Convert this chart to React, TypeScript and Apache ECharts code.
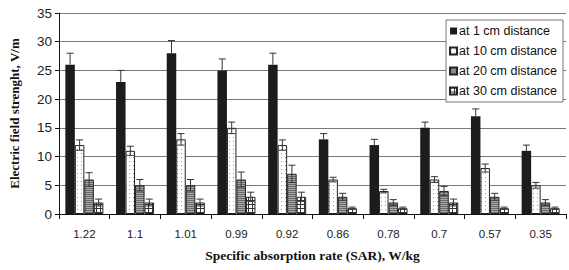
import React, { useEffect, useRef } from "react";
import * as echarts from "echarts";

const categories = ["1.22", "1.1", "1.01", "0.99", "0.92", "0.86", "0.78", "0.7", "0.57", "0.35"];
const seriesNames = ["at 1 cm distance", "at 10 cm distance", "at 20 cm distance", "at 30 cm distance"];
const values1cm = [26, 23, 28, 25, 26, 13, 12, 15, 17, 11];
const values10cm = [12, 11, 13, 15, 12, 6, 4, 6, 8, 5];
const values20cm = [6, 5, 5, 6, 7, 3, 2, 4, 3, 2];
const values30cm = [2, 2, 2, 3, 3, 1, 1, 2, 1, 1];
const err1cm = [2, 2, 2.2, 2, 2, 1, 1, 1, 1.3, 1];
const err10cm = [0.9, 0.8, 1, 1, 0.9, 0.4, 0.3, 0.5, 0.7, 0.5];
const err20cm = [1.2, 1, 1, 1.3, 1.5, 0.6, 0.5, 0.8, 0.6, 0.5];
const err30cm = [0.6, 0.6, 0.6, 0.8, 0.8, 0.2, 0.2, 0.6, 0.2, 0.2];

function makePattern(kind: string): HTMLCanvasElement {
  const c = document.createElement("canvas");
  const s = 4;
  c.width = s;
  c.height = s;
  const ctx = c.getContext("2d")!;
  if (kind === "dots") {
    ctx.fillStyle = "#ffffff";
    ctx.fillRect(0, 0, s, s);
    ctx.fillStyle = "#9a9a9a";
    ctx.fillRect(1, 1, 1, 1);
  } else if (kind === "hlines") {
    ctx.fillStyle = "#a8a8a8";
    ctx.fillRect(0, 0, s, s);
    ctx.fillStyle = "#6a6a6a";
    ctx.fillRect(0, 0, s, 1);
    ctx.fillRect(0, 2, s, 1);
  } else {
    ctx.fillStyle = "#ffffff";
    ctx.fillRect(0, 0, s, s);
    ctx.fillStyle = "#333333";
    ctx.fillRect(0, 0, s, 1);
    ctx.fillRect(0, 0, 1, s);
  }
  return c;
}

export default function App() {
  const ref = useRef<HTMLDivElement>(null);
  useEffect(() => {
    if (!ref.current) return;
    document.body.style.margin = "0";
    const chart = echarts.init(ref.current, undefined, { renderer: "svg" });
    const allValues = [values1cm, values10cm, values20cm, values30cm];
    const allErr = [err1cm, err10cm, err20cm, err30cm];
    const fills: any[] = [
      "#1c1c1c",
      { image: makePattern("dots"), repeat: "repeat" },
      { image: makePattern("hlines"), repeat: "repeat" },
      { image: makePattern("grid"), repeat: "repeat" },
    ];
    const errData: any[] = [];
    allValues.forEach((vals, si) => {
      vals.forEach((v, ci) => errData.push([ci, v, allErr[si][ci], si]));
    });
    const font = "Liberation Sans";
    const option: any = {
      animation: false,
      backgroundColor: "#ffffff",
      grid: { left: 57, right: 3, top: 13, bottom: 56 },
      legend: {
        right: 6,
        top: 20,
        orient: "vertical",
        backgroundColor: "#ffffff",
        borderColor: "#777",
        borderWidth: 1,
        padding: [4, 6, 4, 3],
        itemGap: 6,
        itemWidth: 7,
        itemHeight: 7,
        icon: "rect",
        textStyle: { fontFamily: font, fontSize: 12.5, color: "#111", padding: [0, 0, 0, -3], lineHeight: 14 },
        data: seriesNames,
      },
      xAxis: {
        type: "category",
        data: categories,
        name: "Specific absorption rate (SAR), W/kg",
        nameLocation: "middle",
        nameGap: 34,
        nameTextStyle: { fontFamily: "Liberation Serif", fontWeight: "bold", fontSize: 13.5, color: "#111" },
        axisLine: { lineStyle: { color: "#111", width: 1 } },
        axisTick: { show: true, length: 5, lineStyle: { color: "#111" } },
        axisLabel: { fontFamily: font, fontSize: 11.5, color: "#222", margin: 14 },
      },
      yAxis: {
        type: "value",
        min: 0,
        max: 35,
        interval: 5,
        name: "Electric field strenght, V/m",
        nameLocation: "middle",
        nameGap: 38,
        nameTextStyle: { fontFamily: "Liberation Serif", fontWeight: "bold", fontSize: 13, color: "#111" },
        axisLine: { show: true, lineStyle: { color: "#111", width: 1 } },
        axisTick: { show: true, length: 4, lineStyle: { color: "#111" } },
        axisLabel: { fontFamily: font, fontSize: 13.5, color: "#222", margin: 7 },
        splitLine: { lineStyle: { color: "#7a7a7a", width: 1 } },
      },
      series: [
        ...allValues.map((vals, si) => ({
          name: seriesNames[si],
          type: "bar",
          data: vals,
          barGap: "0%",
          barCategoryGap: "25%",
          itemStyle: { color: fills[si], borderColor: "#222", borderWidth: si === 0 ? 0 : 1 },
        })),
        {
          type: "custom",
          z: 10,
          encode: { x: 0, y: 1 },
          data: errData,
          renderItem: (params: any, api: any) => {
            const ci = api.value(0);
            const v = api.value(1);
            const e = api.value(2);
            const si = api.value(3);
            const catW = api.size([1, 0])[0];
            const bw = (catW * 0.75) / 4;
            const center = api.coord([ci, v]);
            const x = center[0] + (si - 1.5) * bw;
            const yTop = api.coord([ci, v + e])[1];
            const yBot = si === 0 ? center[1] : api.coord([ci, v - e])[1];
            const cap = 3.5;
            const style = { stroke: "#333", lineWidth: 1 };
            const children: any[] = [
              { type: "line", shape: { x1: x, y1: yTop, x2: x, y2: yBot }, style },
              { type: "line", shape: { x1: x - cap, y1: yTop, x2: x + cap, y2: yTop }, style },
            ];
            if (si !== 0) {
              children.push({ type: "line", shape: { x1: x - cap, y1: yBot, x2: x + cap, y2: yBot }, style });
            }
            return { type: "group", children };
          },
        },
      ],
    };
    chart.setOption(option);
    return () => chart.dispose();
  }, []);
  return <div ref={ref} style={{ width: 569, height: 270 }} />;
}
